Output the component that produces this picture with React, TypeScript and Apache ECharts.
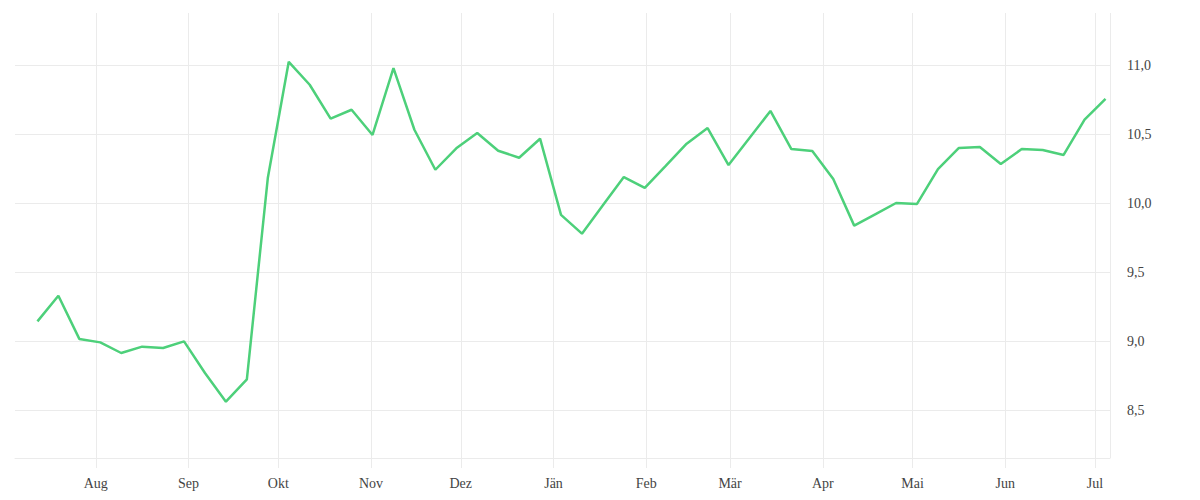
import React, { useEffect, useRef } from "react";
import * as echarts from "echarts";

const dates: string[] = [
  "2022-07-12", "2022-07-19", "2022-07-26",
  "2022-08-02", "2022-08-09", "2022-08-16", "2022-08-23", "2022-08-30",
  "2022-09-06", "2022-09-13", "2022-09-20", "2022-09-27",
  "2022-10-04", "2022-10-11", "2022-10-18", "2022-10-25",
  "2022-11-01", "2022-11-08", "2022-11-15", "2022-11-22", "2022-11-29",
  "2022-12-06", "2022-12-13", "2022-12-20", "2022-12-27",
  "2023-01-03", "2023-01-10", "2023-01-17", "2023-01-24", "2023-01-31",
  "2023-02-07", "2023-02-14", "2023-02-21", "2023-02-28",
  "2023-03-07", "2023-03-14", "2023-03-21", "2023-03-28",
  "2023-04-04", "2023-04-11", "2023-04-18", "2023-04-25",
  "2023-05-02", "2023-05-09", "2023-05-16", "2023-05-23", "2023-05-30",
  "2023-06-06", "2023-06-13", "2023-06-20", "2023-06-27",
  "2023-07-04",
];

const values: number[] = [
  9.147, 9.333, 9.02,
  8.995, 8.918, 8.964, 8.954, 9.002,
  8.773, 8.565, 8.727, 10.186,
  11.028, 10.862, 10.616, 10.681,
  10.498, 10.983, 10.536, 10.246, 10.401,
  10.512, 10.384, 10.333, 10.471,
  9.919, 9.783, 9.988, 10.193, 10.114,
  10.274, 10.435, 10.548, 10.28,
  10.476, 10.672, 10.396, 10.382,
  10.179, 9.841, 9.923, 10.005,
  9.998, 10.251, 10.404, 10.411, 10.288,
  10.396, 10.389, 10.353, 10.609,
  10.759,
];

const monthLabels: string[] = [
  "Jän", "Feb", "Mär", "Apr", "Mai", "Jun",
  "Jul", "Aug", "Sep", "Okt", "Nov", "Dez",
];

const xMin = "2022-07-05";
const xMax = "2023-07-06";
const yMin = 8.157;
const yMax = 11.382;

const FONT = "'Liberation Serif', serif";
const GRID_COLOR = "#ebebeb";
const LABEL_COLOR = "#444444";
const LINE_COLOR = "#4dd07a";
const DAY = 24 * 3600 * 1000;

export default function App() {
  const ref = useRef<HTMLDivElement>(null);

  useEffect(() => {
    if (!ref.current) return;
    const chart = echarts.init(ref.current, undefined, { renderer: "svg" });
    const data = dates.map((d, i) => [d + "T12:00:00", values[i]]);
    chart.setOption({
      animation: false,
      backgroundColor: "#ffffff",
      grid: { left: 15, right: 90, top: 13, bottom: 42 },
      xAxis: {
        type: "time",
        min: xMin,
        max: xMax,
        splitNumber: 12,
        minInterval: 28 * DAY,
        maxInterval: 31 * DAY,
        axisLine: { show: true, lineStyle: { color: GRID_COLOR, width: 1 } },
        axisTick: { show: true, length: 10, lineStyle: { color: GRID_COLOR, width: 1 } },
        splitLine: { show: true, showMinLine: false, lineStyle: { color: GRID_COLOR, width: 1 } },
        axisLabel: {
          showMinLabel: false,
          showMaxLabel: false,
          margin: 18,
          color: LABEL_COLOR,
          fontFamily: FONT,
          fontSize: 14,
          formatter: (v: number) => monthLabels[new Date(v).getMonth()],
        },
      },
      yAxis: {
        type: "value",
        position: "right",
        min: yMin,
        max: yMax,
        axisLine: { show: false },
        axisTick: { show: false },
        splitLine: {
          show: true,
          showMinLine: false,
          showMaxLine: false,
          lineStyle: { color: GRID_COLOR, width: 1 },
        },
        axisLabel: {
          showMinLabel: false,
          showMaxLabel: false,
          margin: 17,
          padding: [4, 0, 0, 0],
          color: LABEL_COLOR,
          fontFamily: FONT,
          fontSize: 14,
          formatter: (v: number) => v.toFixed(1).replace(".", ","),
        },
      },
      series: [
        {
          type: "line",
          data,
          showSymbol: false,
          symbol: "none",
          lineStyle: { color: LINE_COLOR, width: 2.5 },
        },
      ],
    });
    return () => chart.dispose();
  }, []);

  return (
    <div
      ref={ref}
      style={{ position: "absolute", left: 0, top: 0, width: 1200, height: 500 }}
    />
  );
}
